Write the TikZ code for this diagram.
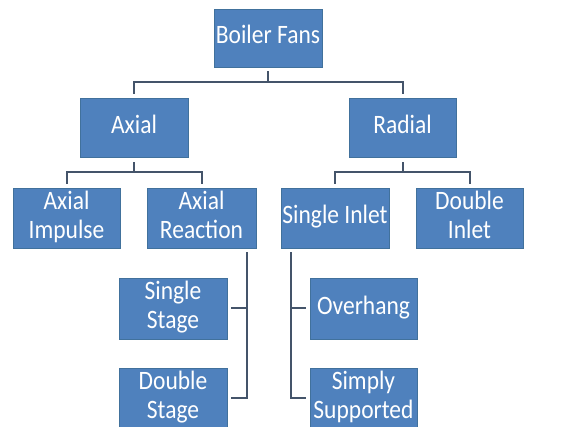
\documentclass[tikz,border=0pt]{standalone}
\usepackage{fontspec}
\setmainfont{Carlito}
\usetikzlibrary{calc}
\definecolor{boxfill}{HTML}{4F81BD}
\definecolor{boxline}{HTML}{41719C}
\definecolor{connc}{HTML}{44546A}
\newcommand{\fbtext}[1]{\scalebox{1}[1.13]{\begin{tabular}{@{}c@{}}#1\end{tabular}}}
\tikzset{
  fanbox/.style={rectangle, fill=boxfill, draw=boxline, line width=0.8pt,
    minimum width=107pt, minimum height=59pt, inner sep=0pt,
    text=white, align=center,
    font=\fontsize{23.5}{25.7}\selectfont},
  conn/.style={draw=connc, line width=2pt}
}
\begin{document}
\begin{tikzpicture}[x=1pt,y=-1pt]
\useasboundingbox (0,0) rectangle (587,427);
\begin{scope}
\clip (0,0) rectangle (587,427);
\node[anchor=base west, inner sep=0pt, font=\fontsize{16}{18}\selectfont] (cap) at (1,-2) {g};

\node[fanbox, minimum width=108pt, minimum height=58pt] (bf) at (268,38) {\fbtext{Boiler Fans}};
\node[fanbox, minimum width=108pt] (ax) at (134,127.5) {\fbtext{Axial}};
\node[fanbox] (ra) at (402.5,127.5) {\fbtext{Radial}};
\node[fanbox, minimum height=60pt] (ai) at (66.5,218) {\fbtext{Axial\\Impulse}};
\node[fanbox, minimum width=109pt, minimum height=60pt] (ar) at (201.5,218) {\fbtext{Axial\\Reaction}};
\node[fanbox, minimum width=108pt, minimum height=60pt] (si) at (335,218) {\fbtext{Single Inlet}};
\node[fanbox, minimum height=60pt] (di) at (469.5,218) {\fbtext{Double\\Inlet}};
\node[fanbox, minimum width=108pt, minimum height=61pt] (ss) at (173,308.5) {\fbtext{Single\\Stage}};
\node[fanbox, minimum width=108pt, minimum height=61pt] (ds) at (173,398.5) {\fbtext{Double\\Stage}};
\node[fanbox, minimum height=61pt] (oh) at (363.5,308.5) {\fbtext{Overhang}};
\node[fanbox, minimum height=61pt] (sp) at (363.5,398.5) {\fbtext{Simply\\Supported}};

% Boiler Fans -> Axial, Radial
\coordinate (bfj) at ($(bf.south)+(0,15)$);
\draw[conn] ($(bf.south)+(0,4)$) -- (bfj);
\draw[conn] ($(ax.north)+(0,-4)$) |- (bfj) -| ($(ra.north)+(0,-4)$);

% Axial -> Axial Impulse, Axial Reaction
\coordinate (axj) at ($(ax.south)+(0,15)$);
\draw[conn] ($(ax.south)+(0,5)$) -- (axj);
\draw[conn] ($(ai.north)+(0,-4)$) |- (axj) -| ($(ar.north)+(0,-4)$);

% Radial -> Single Inlet, Double Inlet
\coordinate (raj) at ($(ra.south)+(0,15)$);
\draw[conn] ($(ra.south)+(0,5)$) -- (raj);
\draw[conn] ($(si.north)+(0,-4)$) |- (raj) -| ($(di.north)+(0,-4)$);

% Axial Reaction -> Single Stage, Double Stage
\coordinate (arv) at ($(ar.south east)+(-9,4)$);
\draw[conn] (arv) |- ($(ds.east)+(4,0)$);
\draw[conn] ($(ss.east)+(4,0)$) -- (ss.east -| arv);

% Single Inlet -> Overhang, Simply Supported
\coordinate (siv) at ($(si.south west)+(10,4)$);
\draw[conn] (siv) |- ($(sp.west)+(-4,0)$);
\draw[conn] ($(oh.west)+(-4,0)$) -- (oh.west -| siv);
\end{scope}
\end{tikzpicture}
\end{document}
